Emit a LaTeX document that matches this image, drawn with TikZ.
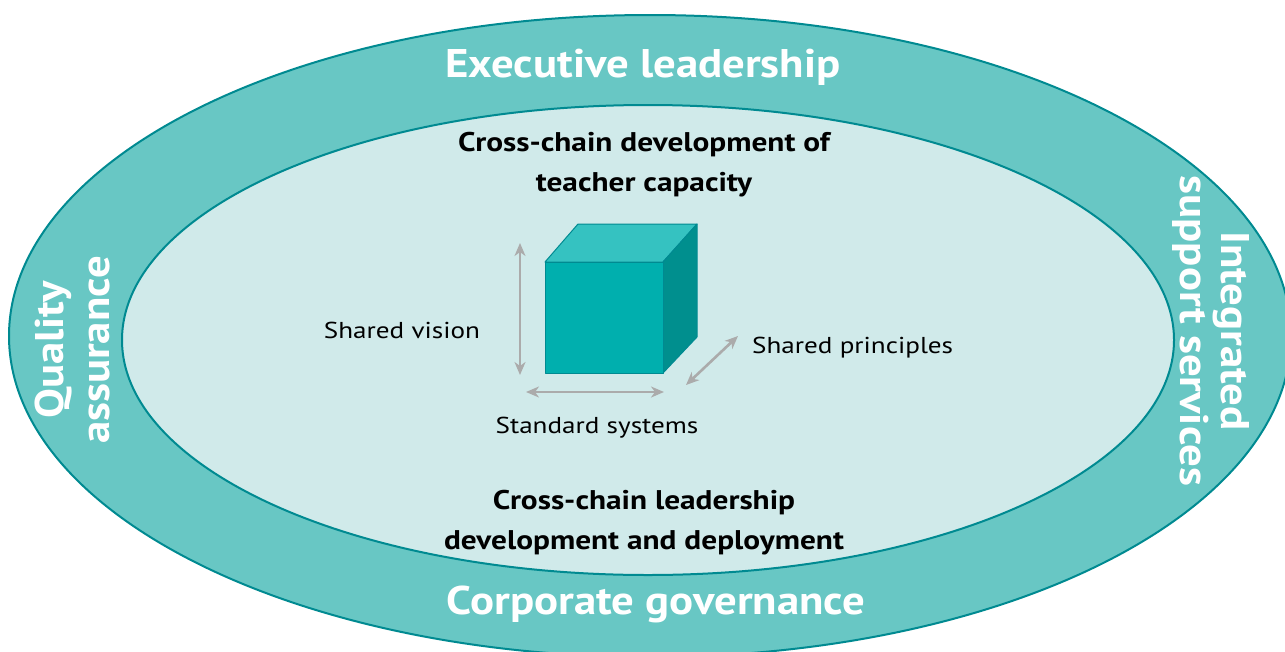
\documentclass[tikz,border=0pt]{standalone}
\usepackage{fontspec}
\setmainfont{PT Sans}
\usetikzlibrary{arrows.meta}
\definecolor{band}{HTML}{68C7C4}
\definecolor{inner}{HTML}{D0EAEA}
\definecolor{edge}{HTML}{008A91}
\definecolor{cfront}{HTML}{00AFAE}
\definecolor{ctop}{HTML}{35C2C1}
\definecolor{cside}{HTML}{008F8E}
\definecolor{arr}{HTML}{ABABAB}
\newcommand{\wb}[1]{\scalebox{1.12}[1]{#1}}
\newcommand{\wi}[1]{\scalebox{1.16}[1]{#1}}
\newcommand{\wl}[1]{\scalebox{1.18}[1]{#1}}
\tikzset{
  bandtext/.style={text=white, font=\fontsize{40}{44}\selectfont\bfseries, inner sep=0pt, align=center},
  innertext/.style={text=black, font=\fontsize{27}{40}\selectfont\bfseries, inner sep=0pt, align=center},
  labeltext/.style={text=black, font=\fontsize{23}{26}\selectfont, inner sep=0pt},
  dimarrow/.style={draw=arr, line width=2.6pt, {Stealth[length=13pt,width=11pt,inset=4pt]}-{Stealth[length=13pt,width=11pt,inset=4pt]}},
  cubeface/.style={draw=edge, line width=1pt, line join=round}
}
\begin{document}
\begin{tikzpicture}[x=1pt,y=-1pt]
\useasboundingbox (0,0) rectangle (1285,651);
\fill[white] (0,0) rectangle (1285,651);
\draw[fill=band, draw=edge, line width=2pt] (650,336) ellipse [x radius=641, y radius=321];
\draw[fill=inner, draw=edge, line width=2pt] (648,340) ellipse [x radius=526, y radius=235];
% cube
\draw[cubeface, fill=ctop] (545,262) -- (578,224) -- (697,224) -- (663,262) -- cycle;
\draw[cubeface, fill=cside] (663,262) -- (697,224) -- (697,337) -- (663,373) -- cycle;
\draw[cubeface, fill=cfront] (545,262) rectangle (663,373);
\coordinate (vt) at (520,243);
\coordinate (vb) at (520,375);
\coordinate (hl) at (526,392);
\coordinate (hr) at (664,392);
\coordinate (dl) at (686,385);
\coordinate (dr) at (738,336);
\draw[dimarrow] (vt) -- (vb);
\draw[dimarrow] (hl) -- (hr);
\draw[dimarrow] (dl) -- (dr);
% labels
\node[bandtext] (exec) at (643,67) {\wb{Executive leadership}};
\node[bandtext] (corp) at (656,604) {\wb{Corporate governance}};
\node[bandtext, rotate=90, font=\fontsize{40}{46}\selectfont\bfseries] (qa) at (72,350) {\wb{Quality}\\\wb{assurance}};
\node[bandtext, rotate=-90, font=\fontsize{40}{41}\selectfont\bfseries] (iss) at (1211,331) {\wb{Integrated}\\\wb{support services}};
\node[innertext] (tcap) at (644,165) {\wi{Cross-chain development of}\\\wi{teacher capacity}};
\node[innertext] (lead) at (644,523) {\wi{Cross-chain leadership}\\\wi{development and deployment}};
\node[labeltext] (vision) at (402,330) {\wl{Shared vision}};
\node[labeltext, anchor=west] (princ) at (752,348) {\wl{Shared principles}};
\node[labeltext] (std) at (597,428) {\wl{Standard systems}};
\end{tikzpicture}
\end{document}
